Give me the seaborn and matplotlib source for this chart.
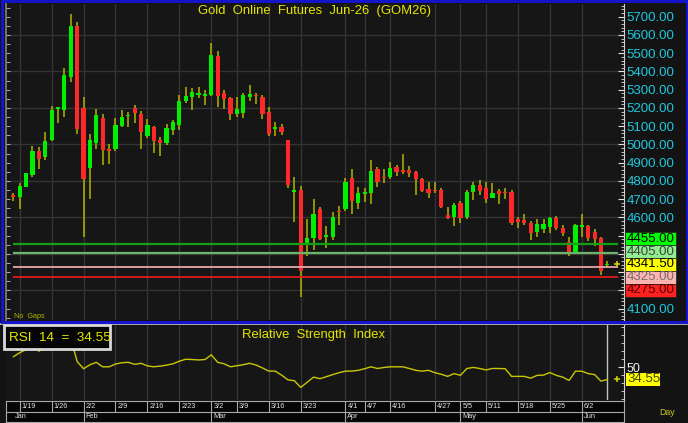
import numpy as np
import pandas as pd
import matplotlib
matplotlib.use('Agg')
import matplotlib.pyplot as plt
import matplotlib.transforms as mtransforms
from matplotlib.patches import Rectangle
from matplotlib.ticker import MultipleLocator
import seaborn as sns

# daily bars (Jan 16 .. Jun 5)
opens = [4722, 4713, 4768, 4834, 4966, 4933, 5024, 5192, 5189, 5368,
         5649, 5201, 4869, 5010, 5143, 4973, 4973, 5101, 5154, 5201,
         5167, 5046, 5097, 5024, 5006, 5079, 5106, 5238, 5262, 5269,
         5267, 5273, 5485, 5280, 5253, 5167, 5174, 5258, 5269, 5262,
         5178, 5086, 5094, 5024, 4741, 4748, 4454, 4487, 4646, 4494,
         4490, 4637, 4646, 4817, 4677, 4730, 4732, 4865, 4821, 4823,
         4878, 4860, 4858, 4850, 4808, 4755, 4752, 4750, 4613, 4604,
         4677, 4600, 4741, 4777, 4759, 4708, 4743, 4739, 4737, 4591,
         4587, 4571, 4518, 4536, 4549, 4598, 4540, 4463, 4406, 4549,
         4552, 4521, 4485, 4337]
highs = [4735, 4786, 4845, 4991, 4988, 5070, 5211, 5207, 5417, 5715,
         5673, 5262, 5057, 5192, 5167, 5002, 5143, 5189, 5180, 5216,
         5183, 5138, 5101, 5039, 5112, 5134, 5271, 5313, 5308, 5313,
         5298, 5558, 5514, 5298, 5262, 5262, 5280, 5324, 5282, 5271,
         5203, 5123, 5114, 5024, 4819, 4774, 4589, 4700, 4658, 4552,
         4627, 4662, 4814, 4863, 4768, 4763, 4914, 4878, 4867, 4903,
         4887, 4947, 4881, 4852, 4814, 4796, 4792, 4761, 4658, 4677,
         4691, 4750, 4796, 4805, 4792, 4786, 4754, 4759, 4750, 4600,
         4618, 4580, 4589, 4589, 4604, 4607, 4558, 4490, 4562, 4618,
         4558, 4536, 4494, 4362]
lows = [4690, 4644, 4765, 4819, 4863, 4914, 5019, 5119, 5152, 5344,
        5057, 4494, 4699, 4973, 4885, 4892, 4966, 5094, 5097, 5119,
        4973, 5033, 4955, 4936, 4997, 5050, 5079, 5229, 5189, 5253,
        5216, 5265, 5207, 5194, 5134, 5148, 5143, 5238, 5220, 5138,
        5046, 5046, 5050, 4763, 4576, 4165, 4388, 4421, 4476, 4430,
        4476, 4558, 4635, 4618, 4644, 4686, 4673, 4765, 4790, 4808,
        4828, 4838, 4823, 4722, 4741, 4704, 4735, 4649, 4591, 4552,
        4567, 4591, 4695, 4722, 4681, 4704, 4673, 4702, 4558, 4543,
        4558, 4476, 4494, 4512, 4512, 4530, 4498, 4388, 4397, 4494,
        4472, 4445, 4284, 4326]
closes = [4710, 4772, 4841, 4966, 4920, 5020, 5189, 5203, 5381, 5649,
          5085, 4808, 5024, 5161, 4969, 4966, 5106, 5152, 5161, 5170,
          5070, 5106, 5021, 5010, 5092, 5121, 5238, 5266, 5287, 5282,
          5273, 5492, 5266, 5247, 5167, 5192, 5271, 5276, 5264, 5167,
          5057, 5093, 5068, 4777, 4750, 4307, 4487, 4618, 4483, 4501,
          4600, 4630, 4796, 4690, 4735, 4737, 4856, 4796, 4814, 4870,
          4850, 4849, 4841, 4808, 4746, 4732, 4745, 4658, 4598, 4668,
          4594, 4741, 4777, 4744, 4699, 4735, 4730, 4732, 4567, 4574,
          4567, 4516, 4562, 4562, 4598, 4540, 4512, 4412, 4558, 4554,
          4488, 4483, 4307, 4341.5]
rsi = [63, 68, 72, 78, 70, 75, 80, 80, 84, 86,
       57, 48, 53, 56, 50.4, 50.4, 53.9, 55.5, 56, 53.5,
       54.8, 51.5, 50.4, 51.3, 52.5, 54.2, 57.5, 59.9, 59.5, 59,
       59.5, 65.4, 56, 54.2, 50.4, 51.7, 53, 54.8, 52.6, 49,
       45, 45, 40, 34, 33, 24.6, 31, 37.5, 35.5, 38,
       40.6, 43, 45, 45, 46, 48, 50.4, 48.3, 49.5, 50.4,
       50.4, 50.4, 48.3, 46, 45, 46, 43, 41, 38.4, 41.9,
       39.7, 48.3, 49.6, 48.3, 46.5, 48.3, 48.3, 48, 38.4, 38.4,
       38.4, 36.2, 39.7, 40, 43.2, 39.7, 37.5, 33.3, 44.9, 44.9,
       41.9, 40.6, 32.4, 34.55]

week_labels = ['1/19', '1/26', '2/2', '2/9', '2/16', '2/23', '3/2', '3/9', '3/16', '3/23',
               '4/1', '4/7', '4/16', '4/27', '5/5', '5/11', '5/18', '5/25', '6/2']
week_bars = [1, 6, 11, 16, 21, 26, 31, 35, 40, 45, 52, 55, 59, 66, 70, 74, 79, 84, 89]
month_labels = ['Jan', 'Feb', 'Mar', 'Apr', 'May', 'Jun']
month_bars = [0, 11, 31, 52, 70, 89]

line_levels = [4455.00, 4405.00, 4325.00, 4275.00]
line_colors = ['#14a014', '#6cb46c', '#e6a8a8', '#e01c1c']
tag_levels = [4455.00, 4405.00, closes[-1], 4325.00, 4275.00]
tag_faces = ['#00ff00', '#90ee90', '#ffff00', '#ffb4b0', '#ff2020']
tag_texts = ['#000000', '#404040', '#000000', '#707070', '#500000']

sns.set_theme(style='dark')
plt.rcParams['font.family'] = ['Liberation Sans', 'DejaVu Sans']

W, H = 688, 423
BG = '#161616'
YEL = '#e6e600'
fig = plt.figure(figsize=(W / 100, H / 100), dpi=100, facecolor='#131313')


def rect(x0, y0, x1, y1):
    return [x0 / W, 1 - y1 / H, (x1 - x0) / W, (y1 - y0) / H]


df = pd.DataFrame({'open': opens, 'high': highs, 'low': lows, 'close': closes, 'rsi': rsi})
df['bar'] = np.arange(len(df))
up = df['close'] >= df['open']
xlim = (-1.14, len(df) + 1.6)

ax = fig.add_axes(rect(6, 4, 624, 320))
ax_r = fig.add_axes(rect(6, 325, 624, 400))
ax_d = fig.add_axes(rect(6, 401, 624, 422))

# ---- price panel
ax.set_facecolor(BG)
ax.set_xlim(xlim)
ax.set_ylim(4037, 5770)
for b in week_bars:
    ax.axvline(b, color='#343434', lw=1, zorder=0)
for p in range(4200, 5800, 200):
    ax.axhline(p, color='#343434', lw=1, zorder=0)

body_lo = df[['open', 'close']].min(axis=1)
body_h = (df['close'] - df['open']).abs().clip(lower=7)
ax.vlines(df['bar'], df['low'], df['high'], color='#b4b400', lw=1.1, zorder=3)
ax.bar(df['bar'], body_h, bottom=body_lo, width=0.66,
       color=np.where(up, '#00ee00', '#ff2828'), linewidth=0, zorder=4)

ax.hlines(line_levels, -0.1, len(df) + 0.7, colors=line_colors,
          lw=[1.6, 1.6, 1.3, 1.3], zorder=5)
ax.plot(len(df) + 0.5, closes[-1], marker='+', color='#d2d200', ms=5, mew=1.2, zorder=6)

# price tags: last price stays at its level, the others stack around it
box_h = 12.9
ys = [H - ax.transData.transform((0, p))[1] for p in tag_levels]
k = tag_levels.index(closes[-1])
for i in range(k - 1, -1, -1):
    ys[i] = min(ys[i], ys[i + 1] - box_h)
for i in range(k + 1, len(ys)):
    ys[i] = max(ys[i], ys[i - 1] + box_h)
for y, p, fc, tc in zip(ys, tag_levels, tag_faces, tag_texts):
    fig.patches.append(Rectangle((625 / W, 1 - (y + box_h / 2) / H), 51 / W, box_h / H,
                                 transform=fig.transFigure, facecolor=fc,
                                 edgecolor='#202020', lw=0.5, zorder=10))
    fig.text(626.5 / W, 1 - y / H, f'{p:.2f}', ha='left', va='center',
             fontsize=9.5, color=tc, zorder=11)

# axis labels hidden behind the tag block are left blank
tag_top, tag_bot = ys[0] - box_h / 2 - 3, ys[-1] + box_h / 2 + 3
yticks = np.arange(4100, 5701, 100)
ylabels = []
for v in yticks:
    yv = H - ax.transData.transform((0, v))[1]
    ylabels.append('' if tag_top < yv < tag_bot else f'{v:.2f}')
ax.yaxis.tick_right()
ax.set_yticks(yticks)
ax.set_yticklabels(ylabels)
ax.yaxis.set_minor_locator(MultipleLocator(20))
ax.tick_params(axis='y', which='major', right=True, direction='in', length=4, width=0.8,
               color='#e0e0e0', labelcolor='#1ec8dc', labelsize=9.5, pad=2)
ax.tick_params(axis='y', which='minor', right=True, direction='in', length=2, width=0.6,
               color='#e0e0e0')
ax.tick_params(axis='x', bottom=False, labelbottom=False)
sec = ax.secondary_yaxis('left')
sec.set_yticks(np.arange(4050, 5800, 50))
sec.set_yticklabels([])
sec.tick_params(direction='in', length=3, width=0.6, color='#c8c8c8')
sec.spines['left'].set_color('#808080')
for s in ['top', 'bottom', 'left']:
    ax.spines[s].set_visible(False)
ax.spines['right'].set_color('#d0d0d0')
ax.spines['right'].set_linewidth(0.8)

fig.text(314 / W, 1 - 11 / H, 'Gold  Online  Futures  Jun-26  (GOM26)',
         ha='center', va='center', fontsize=9.4, color=YEL)
fig.text(14 / W, 1 - 316 / H, 'No  Gaps', ha='left', va='center', fontsize=5.2, color='#b4b400')

# ---- RSI panel
ax_r.set_facecolor(BG)
for b in week_bars:
    ax_r.axvline(b, color='#343434', lw=1, zorder=0)
sns.lineplot(data=df, x='bar', y='rsi', ax=ax_r, color='#c8c800', lw=1.0)
ax_r.axvline(df['bar'].iloc[-1], color='#c0c0c0', lw=1, zorder=1)
ax_r.plot(len(df) + 0.5, rsi[-1], marker='+', color='#d2d200', ms=4, mew=1.1)
ax_r.set_xlim(xlim)
ax_r.set_ylim(8.8, 102.8)
ax_r.set_xlabel('')
ax_r.set_ylabel('')
ax_r.yaxis.tick_right()
ax_r.set_yticks([50])
ax_r.set_yticklabels(['50'])
ax_r.yaxis.set_minor_locator(MultipleLocator(10))
ax_r.tick_params(axis='y', which='major', right=True, direction='in', length=4, width=0.8,
                 color='#e0e0e0', labelcolor='#f0f0f0', labelsize=9, pad=2)
ax_r.tick_params(axis='y', which='minor', right=True, direction='in', length=2.5, width=0.6,
                 color='#e0e0e0')
ax_r.tick_params(axis='x', bottom=False, labelbottom=False)
for s in ['top', 'bottom', 'left']:
    ax_r.spines[s].set_visible(False)
ax_r.spines['right'].set_color('#d0d0d0')
ax_r.spines['right'].set_linewidth(0.8)

yr = H - ax_r.transData.transform((0, rsi[-1]))[1]
fig.patches.append(Rectangle((626 / W, 1 - (yr + 6.5) / H), 34 / W, 13 / H,
                             transform=fig.transFigure, facecolor='#ffff00', lw=0, zorder=10))
fig.text(627 / W, 1 - yr / H, f'{rsi[-1]:.2f}', ha='left', va='center',
         fontsize=9.5, color='#404000', zorder=11)

fig.patches.append(Rectangle((4 / W, 1 - 349 / H), 106 / W, 24 / H, transform=fig.transFigure,
                             facecolor='#050505', edgecolor='#d8d8d8', lw=2, zorder=10))
fig.text(9 / W, 1 - 337.5 / H, f'RSI  14  =  {rsi[-1]:.2f}', ha='left', va='center',
         fontsize=9.7, color=YEL, zorder=11)
fig.text(313 / W, 1 - 335 / H, 'Relative  Strength  Index', ha='center', va='center',
         fontsize=9.4, color=YEL)

# ---- date strip
ax_d.set_facecolor('#060606')
ax_d.set_xlim(xlim)
ax_d.set_ylim(0, 2)
ax_d.set_xticks([])
ax_d.set_yticks([])
for s in ax_d.spines.values():
    s.set_color('#a8a8a8')
    s.set_linewidth(0.8)
ax_d.axhline(1, color='#a8a8a8', lw=0.8)
ax_d.vlines(week_bars, 1, 2, colors='#a8a8a8', lw=0.8)
ax_d.vlines(month_bars[1:], 0, 1, colors='#a8a8a8', lw=0.8)
off = mtransforms.offset_copy(ax_d.transData, fig=fig, x=2, y=0, units='dots')
for b, lab in zip(week_bars, week_labels):
    ax_d.text(b, 1.5, lab, transform=off, ha='left', va='center', fontsize=5.3, color='#e0e0e0')
for b, lab in zip(month_bars, month_labels):
    ax_d.text(b, 0.5, lab, transform=off, ha='left', va='center', fontsize=5.3, color='#e0e0e0')

fig.text(667 / W, 1 - 412 / H, 'Day', ha='center', va='center', fontsize=6.3, color='#c8c81e')

# frame: blue border round the price panel, grey band under it
fig.patches.append(Rectangle((1.5 / W, 1 - 321.5 / H), 685 / W, 320 / H, transform=fig.transFigure,
                             fill=False, edgecolor='#1414c8', lw=2.2, zorder=12))
fig.lines.append(plt.Line2D([0, 1], [1 - 323.8 / H] * 2, transform=fig.transFigure,
                            color='#b0b0b0', lw=1.4))

fig.savefig('out.png', dpi=100, facecolor=fig.get_facecolor())
